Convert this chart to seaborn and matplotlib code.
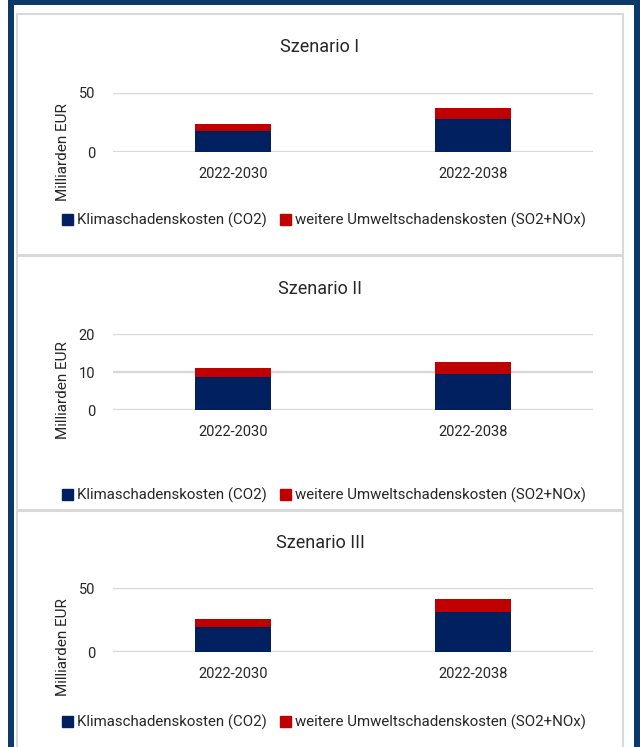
import numpy as np
import pandas as pd
import matplotlib.pyplot as plt
import seaborn as sns
from matplotlib.patches import Rectangle, Patch

# data (Milliarden EUR)
periods = ["2022-2030", "2022-2038"]
scenarios = ["Szenario I", "Szenario II", "Szenario III"]
co2_I = [18.0, 28.0]
other_I = [6.0, 9.0]
co2_II = [8.6, 9.5]
other_II = [2.4, 3.1]
co2_III = [19.3, 31.1]
other_III = [6.5, 10.5]
yticks_I = [0, 50]
yticks_II = [0, 10, 20]
yticks_III = [0, 50]

series = [(co2_I, other_I, yticks_I), (co2_II, other_II, yticks_II), (co2_III, other_III, yticks_III)]

legend_labels = ["Klimaschadenskosten (CO2)", "weitere Umweltschadenskosten (SO2+NOx)"]
BLUE = "#002060"
RED = "#C00000"
GRID = "#d9d9d9"
TEXT = "#262626"
NAVY = "#0b3a6a"

sns.set_theme(style="white")
plt.rcParams["font.family"] = ["Roboto", "DejaVu Sans"]
plt.rcParams["text.color"] = TEXT

W, H = 640, 747
fig = plt.figure(figsize=(W / 100, H / 100), dpi=100)


def fx(x):
    return x / W


def fy(y):
    return 1 - y / H


def rect(x0, y0, x1, y1, **kw):
    fig.patches.append(Rectangle((fx(x0), fy(y1)), fx(x1) - fx(x0), fy(y0) - fy(y1),
                                 transform=fig.transFigure, **kw))


# outer navy frame
rect(8, 0, 640, 5, color=NAVY, lw=0)
rect(8, 0, 14, 747, color=NAVY, lw=0)
rect(634, 0, 640, 747, color=NAVY, lw=0)

# panel borders
panel_y = [(13, 255), (255, 510), (510, 760)]
for y0, y1 in panel_y:
    rect(17, y0 + 1, 623, y1, fill=False, edgecolor=GRID, lw=1.5)

# plot areas in pixel coordinates: (top, bottom)
plot_y = [(93, 152), (334, 410), (588, 652)]
title_y = [47, 289, 543]
ylabel_y = [152, 390, 647]
legend_y = [220, 495, 722]

for i, (co2, other, yt) in enumerate(series):
    top, bot = plot_y[i]
    ax = fig.add_axes([fx(113), fy(bot), fx(593) - fx(113), fy(top) - fy(bot)])
    df = pd.DataFrame({"period": periods, "co2": co2,
                       "total": np.array(co2) + np.array(other)})
    sns.barplot(data=df, x="period", y="total", color=RED, width=0.314,
                saturation=1, ax=ax, zorder=3, edgecolor="none", linewidth=0)
    sns.barplot(data=df, x="period", y="co2", color=BLUE, width=0.314,
                saturation=1, ax=ax, zorder=3, edgecolor="none", linewidth=0)
    ax.set_xlim(-0.5, 1.5)
    ax.set_ylim(yt[0], yt[-1])
    ax.set_yticks(yt)
    ax.set_axisbelow(True)
    ax.yaxis.grid(True, color=GRID, lw=1.7)
    ax.xaxis.grid(False)
    for s in ax.spines.values():
        s.set_visible(False)
    ax.set_facecolor("none")
    ax.set_xlabel("")
    ax.set_ylabel("")
    ax.tick_params(axis="y", length=0, pad=13, labelsize=10.5, labelcolor=TEXT)
    ax.tick_params(axis="x", length=0, pad=11, labelsize=10.5, labelcolor=TEXT)

    fig.text(fx(320), fy(title_y[i]), scenarios[i], ha="center", va="center",
             fontsize=13, color=TEXT)
    fig.text(fx(63), fy(ylabel_y[i]), "Milliarden EUR", rotation=90,
             ha="center", va="center", fontsize=11, color=TEXT)
    handles = [Patch(color=BLUE), Patch(color=RED)]
    fig.legend(handles, legend_labels, loc="center", ncol=2,
               bbox_to_anchor=(fx(324), fy(legend_y[i])), frameon=False,
               fontsize=10.8, handlelength=0.75, handleheight=0.75,
               handletextpad=0.25, columnspacing=0.9, borderpad=0)

fig.savefig("out.png", dpi=100, facecolor="white")
